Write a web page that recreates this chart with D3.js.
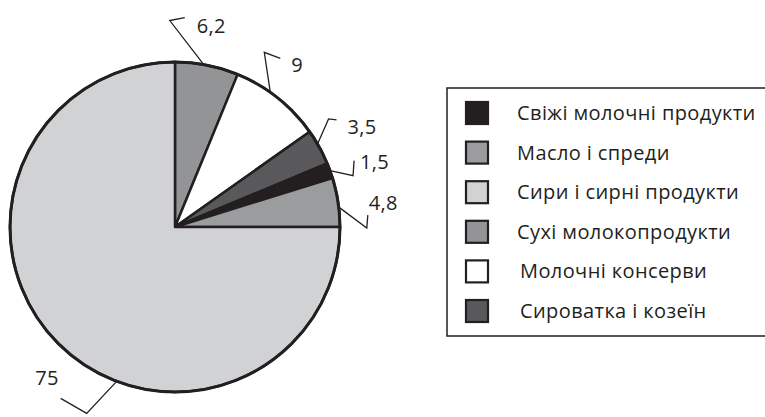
<!DOCTYPE html>
<html>
<head>
<meta charset="utf-8">
<script src="https://cdn.jsdelivr.net/npm/d3@7"></script>
<style>
  body { margin: 0; background: #fff; }
  svg { display: block; font-family: "Open Sans", sans-serif; }
</style>
</head>
<body>
<svg id="chart" width="765" height="417"></svg>
<script>
// legend order
const categories = [
    'Свіжі молочні продукти',
    'Масло і спреди',
    'Сири і сирні продукти',
    'Сухі молокопродукти',
    'Молочні консерви',
    'Сироватка і козеїн'
];
const values = [1.5, 4.8, 75, 6.2, 9, 3.5];
const valueLabels = ['1,5', '4,8', '75', '6,2', '9', '3,5'];

// slices are drawn clockwise from 12 o'clock in this order
const sliceOrder = [
    'Сухі молокопродукти',
    'Молочні консерви',
    'Сироватка і козеїн',
    'Свіжі молочні продукти',
    'Масло і спреди',
    'Сири і сирні продукти'
];

const fills = {
    'Свіжі молочні продукти': '#231f20',
    'Масло і спреди': '#9b9c9e',
    'Сири і сирні продукти': '#d1d2d4',
    'Сухі молокопродукти': '#939496',
    'Молочні консерви': '#ffffff',
    'Сироватка і козеїн': '#59595b'
};

// leader line shapes: elbow offset from the rim, tail offset from the elbow,
// label offset from the tail end
const leaders = {
    'Сухі молокопродукти':    { at: 0.45, elbow: [-34, -44], tail: [15, -3],  text: [12, 15],  anchor: 'start' },
    'Молочні консерви':       { at: 0.4,  elbow: [-6, -40],  tail: [16, 6],   text: [11, 14],  anchor: 'start' },
    'Сироватка і козеїн':     { at: 0.4,  elbow: [11, -25],  tail: [8, 1],    text: [11, 14],  anchor: 'start' },
    'Свіжі молочні продукти': { at: 0.5,  elbow: [23, 5],    tail: [1, -15],  text: [6, 8],    anchor: 'start' },
    'Масло і спреди':         { at: 0.6,  elbow: [28, 21],   tail: [1, -13],  text: [1, -5],   anchor: 'start' },
    'Сири і сирні продукти':  { at: 0.41, elbow: [-30, 32],  tail: [-26, -15], text: [-2, -13], anchor: 'end' }
};

const svg = d3.select('#chart');
const cx = 175, cy = 227, radius = 165;

let rows = sliceOrder.map(name => {
    let i = categories.indexOf(name);
    return { name: name, value: values[i], label: valueLabels[i] };
});

let pie = d3.pie().sort(null).value(d => d.value);
let arc = d3.arc().innerRadius(0).outerRadius(radius);

let g = svg.append('g').attr('transform', `translate(${cx},${cy})`);
let arcs = pie(rows);

g.selectAll('path.slice')
    .data(arcs)
    .enter().append('path')
    .attr('class', 'slice')
    .attr('d', arc)
    .attr('fill', d => fills[d.data.name])
    .attr('stroke', '#231f20')
    .attr('stroke-width', 2.5)
    .attr('stroke-linejoin', 'round');

// heavier rim
g.append('circle')
    .attr('r', radius)
    .attr('fill', 'none')
    .attr('stroke', '#231f20')
    .attr('stroke-width', 3);

// leaders and value labels
arcs.forEach(d => {
    let L = leaders[d.data.name];
    let a = d.startAngle + (d.endAngle - d.startAngle) * L.at;
    let p0 = [Math.sin(a) * radius, -Math.cos(a) * radius];
    let p1 = [p0[0] + L.elbow[0], p0[1] + L.elbow[1]];
    let p2 = [p1[0] + L.tail[0], p1[1] + L.tail[1]];
    g.append('path')
        .attr('d', d3.line()([p0, p1, p2]))
        .attr('fill', 'none')
        .attr('stroke', '#231f20')
        .attr('stroke-width', 1.3);
    g.append('text')
        .attr('x', p2[0] + L.text[0])
        .attr('y', p2[1] + L.text[1])
        .attr('text-anchor', L.anchor)
        .attr('font-size', 20)
        .attr('letter-spacing', 0.3)
        .attr('fill', '#231f20')
        .text(d.data.label);
});

// legend
let legend = svg.append('g').attr('class', 'legend');
legend.append('rect')
    .attr('x', 447).attr('y', 88)
    .attr('width', 330).attr('height', 248)
    .attr('fill', 'none')
    .attr('stroke', '#231f20')
    .attr('stroke-width', 1.5);

let rowScale = d3.scalePoint()
    .domain(categories)
    .range([113, 311]);

let items = legend.selectAll('g.item')
    .data(categories)
    .enter().append('g')
    .attr('class', 'item')
    .attr('transform', d => `translate(0,${rowScale(d)})`);

items.append('rect')
    .attr('x', 466).attr('y', -11)
    .attr('width', 22).attr('height', 22)
    .attr('fill', d => fills[d])
    .attr('stroke', '#231f20')
    .attr('stroke-width', 2.2);

items.append('text')
    .attr('x', (d, i) => i < 4 ? 517 : 520)
    .attr('y', 7)
    .attr('font-size', 20)
    .attr('letter-spacing', 0.4)
    .attr('fill', '#231f20')
    .text(d => d);
</script>
</body>
</html>
